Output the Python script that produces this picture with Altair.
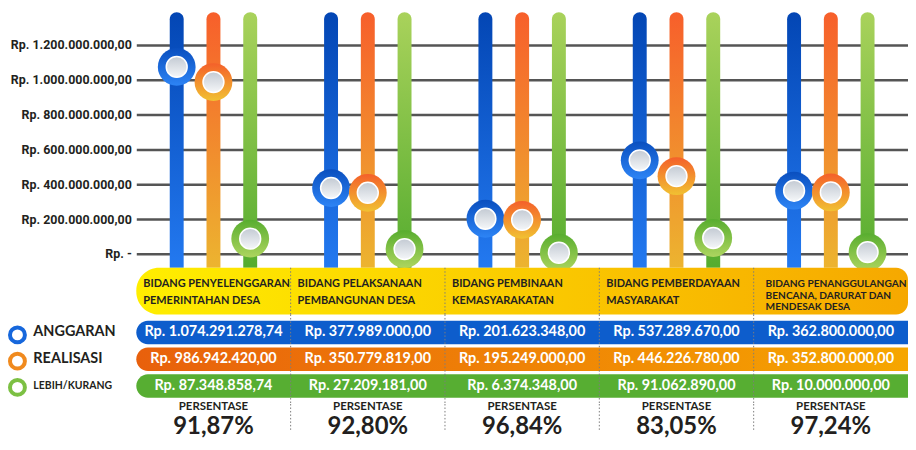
import altair as alt
import pandas as pd

# ---------------- data ----------------
BIDANG = [
    "BIDANG PENYELENGGARAN\nPEMERINTAHAN DESA",
    "BIDANG PELAKSANAAN\nPEMBANGUNAN DESA",
    "BIDANG PEMBINAAN\nKEMASYARAKATAN",
    "BIDANG PEMBERDAYAAN\nMASYARAKAT",
    "BIDANG PENANGGULANGAN\nBENCANA, DARURAT DAN\nMENDESAK DESA",
]
SERIES = ["ANGGARAN", "REALISASI", "LEBIH/KURANG"]
ANGGARAN = [1074291278.74, 377989000.00, 201623348.00, 537289670.00, 362800000.00]
REALISASI = [986942420.00, 350779819.00, 195249000.00, 446226780.00, 352800000.00]
LEBIH_KURANG = [87348858.74, 27209181.00, 6374348.00, 91062890.00, 10000000.00]
PERSENTASE = ["91,87%", "92,80%", "96,84%", "83,05%", "97,24%"]
Y_TICKS = [0, 200000000, 400000000, 600000000, 800000000, 1000000000, 1200000000]


def rp(v):
    s = f"{v:,.2f}".replace(",", "#").replace(".", ",").replace("#", ".")
    return "Rp. " + s


# ---------------- styles ----------------
W = 776
AX_FONT = "Roboto"
TXT_FONT = "Lato"
DARK = "#231f20"


def vgrad(c0, c1):
    return {"gradient": "linear", "x1": 0, "y1": 0, "x2": 0, "y2": 1,
            "stops": [{"offset": 0, "color": c0}, {"offset": 1, "color": c1}]}


def hgrad(c0, c1):
    return {"gradient": "linear", "x1": 0, "y1": 0, "x2": 1, "y2": 0,
            "stops": [{"offset": 0, "color": c0}, {"offset": 1, "color": c1}]}


BAR_GRAD = {
    "ANGGARAN": vgrad("#0346b4", "#2379f0"),
    "REALISASI": vgrad("#f75f2b", "#ecb430"),
    "LEBIH/KURANG": vgrad("#a9d25b", "#55ac2f"),
}
KNOB_GRAD = {
    "ANGGARAN": vgrad("#0a4fbf", "#2d84f5"),
    "REALISASI": vgrad("#f4602a", "#f1c132"),
    "LEBIH/KURANG": vgrad("#58ad2f", "#add55f"),
}
INNER_GRAD = vgrad("#c3cad3", "#f5f7f9")
ROW_FILL = {
    "ANGGARAN": "#0d5dcc",
    "REALISASI": hgrad("#e8600c", "#f6a600"),
    "LEBIH/KURANG": "#57ae32",
}
LEGEND_COLORS = ["#1667dc", "#f08a1e", "#7cc043"]

# ---------------- tables ----------------
vals = {"ANGGARAN": ANGGARAN, "REALISASI": REALISASI, "LEBIH/KURANG": LEBIH_KURANG}
long = pd.DataFrame(
    [{"bidang": b, "col": i, "series": s, "value": vals[s][i], "label": rp(vals[s][i])}
     for s in SERIES for i, b in enumerate(BIDANG)]
)
hdr = pd.DataFrame({"bidang": BIDANG, "col": list(range(len(BIDANG)))})
ser = pd.DataFrame({"series": SERIES})
pct = pd.DataFrame(
    [{"bidang": b, "col": i, "kind": "PERSENTASE", "text": "PERSENTASE"} for i, b in enumerate(BIDANG)]
    + [{"bidang": b, "col": i, "kind": "NILAI", "text": PERSENTASE[i]} for i, b in enumerate(BIDANG)]
)


def xscale():
    return alt.Scale(type="band", domain=BIDANG, paddingInner=0, paddingOuter=0)


# ---------------- chart A: sliders ----------------
label_expr = "''"
for t in reversed(Y_TICKS):
    txt = "Rp. -" if t == 0 else rp(t)
    label_expr = f"datum.value == {t} ? '{txt}' : ({label_expr})"

xA = alt.X("bidang:N", scale=xscale(), axis=None)
xo = alt.XOffset("series:N", scale=alt.Scale(type="band", domain=SERIES, paddingInner=0, paddingOuter=0.6))
yA = alt.Y(
    "value:Q",
    scale=alt.Scale(domain=[-80000000, 1388600000], nice=False, zero=False),
    axis=alt.Axis(values=Y_TICKS, labelExpr=label_expr, grid=True, gridColor="#555555",
                  gridWidth=2.5, domain=False, ticks=False, labelPadding=5,
                  labelFont=AX_FONT, labelFontSize=12.5, labelFontWeight="bold",
                  labelColor=DARK, title=None),
)
baseA = alt.Chart(long)
layersA = []
for s in SERIES:
    layersA.append(
        baseA.transform_filter(alt.datum.series == s)
        .mark_bar(width=14, cornerRadiusTopLeft=7, cornerRadiusTopRight=7, fill=BAR_GRAD[s], opacity=1)
        .encode(x=xA, xOffset=xo)
    )
for s in SERIES:
    layersA.append(
        baseA.transform_filter(alt.datum.series == s)
        .mark_circle(size=1444, color=KNOB_GRAD[s], opacity=1)
        .encode(x=xA, xOffset=xo, y=yA)
    )
layersA.append(
    baseA.mark_circle(size=441, color=INNER_GRAD, stroke="#ffffff", strokeWidth=1.5, opacity=1)
    .encode(x=xA, xOffset=xo, y=yA)
)
chartA = alt.layer(*layersA).properties(width=W, height=257)

# ---------------- chart B: header band ----------------
band = alt.Chart(hdr).transform_filter(alt.datum.col == 0).mark_rect(
    fill=hgrad("#ffee00", "#f6a800"), cornerRadiusTopLeft=23, cornerRadiusBottomLeft=23,
    cornerRadiusTopRight=12, cornerRadiusBottomRight=12, opacity=1,
).encode(
    x=alt.XDatum(BIDANG[0], type="nominal", bandPosition=0, scale=xscale(), axis=None),
    x2=alt.X2Datum(BIDANG[-1], bandPosition=1),
)


def rules(df):
    return alt.Chart(df).transform_filter(alt.datum.col > 0).mark_rule(
        strokeDash=[1.5, 2], color="#7d7d7d", strokeWidth=1
    ).encode(x=alt.X("bidang:N", bandPosition=0, scale=xscale(), axis=None))


hdr_txt = alt.Chart(hdr).transform_filter(alt.datum.col < 4).mark_text(
    align="left", baseline="middle", dx=7, dy=-7.5, lineBreak="\n", font=TXT_FONT, fontWeight="bold",
    fontSize=11, lineHeight=17, color=DARK,
).encode(x=alt.X("bidang:N", bandPosition=0, scale=xscale(), axis=None), text="bidang:N")
hdr_txt5 = alt.Chart(hdr).transform_filter(alt.datum.col == 4).mark_text(
    align="left", baseline="middle", dx=12, dy=-7, lineBreak="\n", font=TXT_FONT, fontWeight="bold",
    fontSize=10.2, lineHeight=11.5, color=DARK,
).encode(x=alt.X("bidang:N", bandPosition=0, scale=xscale(), axis=None), text="bidang:N")
chartB = alt.layer(band, rules(hdr), hdr_txt, hdr_txt5).properties(width=W, height=47)

# ---------------- chart C: value rows ----------------
yC = alt.Y(
    "series:N",
    scale=alt.Scale(type="band", domain=SERIES, paddingInner=0.127, paddingOuter=0.236),
    axis=alt.Axis(domain=False, ticks=False, tickSize=0, grid=False, labelAlign="left",
                  labelPadding=104, labelFont=TXT_FONT, labelFontWeight="bold", labelColor=DARK,
                  labelFontSize={"condition": {"test": "datum.value === 'LEBIH/KURANG'", "value": 10.5},
                                 "value": 14.5},
                  title=None),
)
layersC = []
for s in SERIES:
    layersC.append(
        alt.Chart(ser).transform_filter(alt.datum.series == s).mark_rect(
            fill=ROW_FILL[s], cornerRadiusTopLeft=12, cornerRadiusBottomLeft=12, opacity=1
        ).encode(
            x=alt.XDatum(BIDANG[0], type="nominal", bandPosition=0, scale=xscale(), axis=None),
            x2=alt.X2Datum(BIDANG[-1], bandPosition=1),
            y=yC,
        )
    )
layersC.append(rules(hdr))
layersC.append(
    alt.Chart(long).mark_text(color="#ffffff", font=TXT_FONT, fontWeight="bold", fontSize=14.5).encode(
        x=alt.X("bidang:N", scale=xscale(), axis=None), y=yC, text="label:N"
    )
)
layersC.append(
    alt.Chart(ser).transform_filter("false").mark_point(opacity=1).encode(
        stroke=alt.Stroke(
            "series:N",
            scale=alt.Scale(domain=SERIES, range=LEGEND_COLORS),
            legend=alt.Legend(orient="none", legendX=-129, legendY=11, title=None,
                              symbolType="circle", symbolSize=225, symbolStrokeWidth=4,
                              symbolFillColor="#dde2e8", labelExpr="''", labelFontSize=10,
                              rowPadding=-4.6, padding=0),
        )
    )
)
chartC = alt.layer(*layersC).properties(width=W, height=90)

# ---------------- chart D: percentages ----------------
yD = alt.Y("kind:N", scale=alt.Scale(type="band", domain=["PERSENTASE", "NILAI"],
                                      paddingInner=0, paddingOuter=0), axis=None)
p1 = alt.Chart(pct).transform_filter(alt.datum.kind == "PERSENTASE").mark_text(
    font=TXT_FONT, fontWeight="bold", fontSize=11.5, color=DARK, baseline="middle", dy=-3
).encode(x=alt.X("bidang:N", scale=xscale(), axis=None), y=yD, text="text:N")
p2 = alt.Chart(pct).transform_filter(alt.datum.kind == "NILAI").mark_text(
    font=TXT_FONT, fontWeight="bold", fontSize=24, color=DARK, baseline="middle", dy=4
).encode(x=alt.X("bidang:N", scale=xscale(), axis=None), y=yD, text="text:N")
chartD = alt.layer(rules(hdr), p1, p2).properties(width=W, height=26)

chart = (
    alt.vconcat(chartA, chartB, chartC, chartD, spacing=0, bounds="flush")
    .resolve_legend(stroke="independent")
    .properties(padding={"left": 0, "top": 3, "right": 0, "bottom": 0})
    .configure_view(strokeWidth=0)
)
chart.save("out.html", embed_options={"renderer": "svg", "actions": False})
